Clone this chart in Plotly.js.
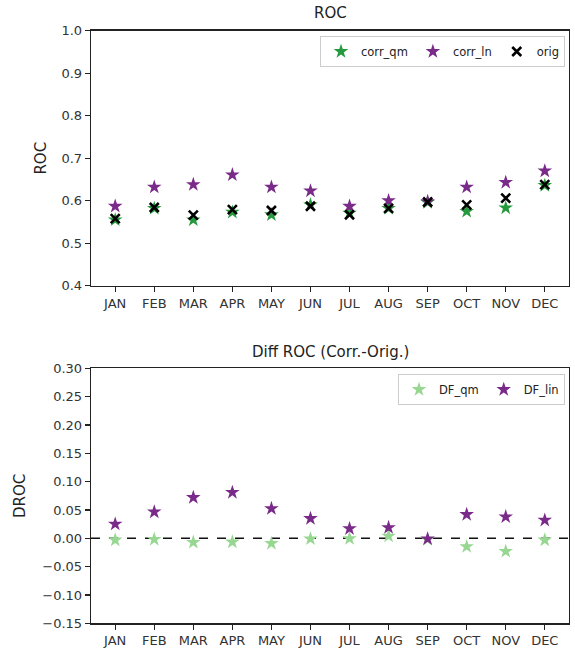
<!DOCTYPE html>
<html>
<head>
<meta charset="utf-8">
<script src="https://cdn.plot.ly/plotly-3.0.1.min.js"></script>
<style>html,body{margin:0;padding:0;background:#fff;}#chart{width:575px;height:649px;}</style>
</head>
<body>
<div id="chart"></div>
<script>
// ---- data ----
const months = ['JAN','FEB','MAR','APR','MAY','JUN','JUL','AUG','SEP','OCT','NOV','DEC'];
const rocCorrQm = [0.555,0.582,0.555,0.573,0.567,0.590,0.571,0.582,0.596,0.575,0.583,0.636];
const rocCorrLn = [0.587,0.632,0.638,0.661,0.632,0.623,0.587,0.600,0.598,0.632,0.643,0.670];
const rocOrig   = [0.558,0.584,0.566,0.579,0.577,0.587,0.567,0.582,0.597,0.590,0.606,0.638];
const drocQm    = [-0.003,-0.002,-0.007,-0.0065,-0.009,-0.001,-0.0006,0.004,-0.002,-0.0147,-0.023,-0.003];
const drocLin   = [0.025,0.0465,0.072,0.081,0.0525,0.035,0.017,0.019,-0.001,0.042,0.038,0.032];
const rocTicks  = [0.4,0.5,0.6,0.7,0.8,0.9,1.0];
const drocTicks = [-0.15,-0.10,-0.05,0.00,0.05,0.10,0.15,0.20,0.25,0.30];

const W = 575, H = 649;
const FONT = 'DejaVu Sans, sans-serif';
const GREEN = '#259a3d', PURPLE = '#7a2a88', LGREEN = '#98d792';

const traces = [
  {x: months, y: rocCorrQm, name: 'corr_qm', type: 'scatter', mode: 'markers', xaxis: 'x', yaxis: 'y', legend: 'legend',
   marker: {symbol: 'star', size: 11, color: GREEN, line: {width: 0}}},
  {x: months, y: rocCorrLn, name: 'corr_ln', type: 'scatter', mode: 'markers', xaxis: 'x', yaxis: 'y', legend: 'legend',
   marker: {symbol: 'star', size: 11, color: PURPLE, line: {width: 0}}},
  {x: months, y: rocOrig, name: 'orig', type: 'scatter', mode: 'markers', xaxis: 'x', yaxis: 'y', legend: 'legend',
   marker: {symbol: 'x-thin-open', size: 9, color: '#000', line: {width: 2.6, color: '#000'}}},
  {x: months, y: drocQm, name: 'DF_qm', type: 'scatter', mode: 'markers', xaxis: 'x2', yaxis: 'y2', legend: 'legend2',
   marker: {symbol: 'star', size: 11, color: LGREEN, line: {width: 0}}},
  {x: months, y: drocLin, name: 'DF_lin', type: 'scatter', mode: 'markers', xaxis: 'x2', yaxis: 'y2', legend: 'legend2',
   marker: {symbol: 'star', size: 11, color: PURPLE, line: {width: 0}}}
];

const axisCommon = {
  showgrid: false, zeroline: false, showline: true, mirror: true,
  linecolor: '#222', linewidth: 1.3, ticks: 'outside', ticklen: 5, tickwidth: 1.2, tickcolor: '#222',
  tickfont: {family: FONT, size: 13, color: '#333'}
};

const layout = {
  width: W, height: H,
  margin: {l: 0, r: 0, t: 0, b: 0},
  paper_bgcolor: '#fff', plot_bgcolor: '#fff',
  font: {family: FONT, color: '#222'},
  xaxis: Object.assign({}, axisCommon, {domain: [91/W, 569/W], range: [-0.62, 11.62], anchor: 'y', type: 'category'}),
  yaxis: Object.assign({}, axisCommon, {domain: [1-285.7/H, 1-30.7/H], range: [0.4, 1.0], anchor: 'x',
    tickvals: rocTicks, ticktext: rocTicks.map(v => v.toFixed(1)),
    title: {text: 'ROC', font: {family: FONT, size: 15, color: '#222'}, standoff: 11}}),
  xaxis2: Object.assign({}, axisCommon, {domain: [91/W, 569/W], range: [-0.62, 11.62], anchor: 'y2', type: 'category'}),
  yaxis2: Object.assign({}, axisCommon, {domain: [1-623.3/H, 1-368.3/H], range: [-0.15, 0.30], anchor: 'x2',
    tickvals: drocTicks, ticktext: drocTicks.map(v => (v < 0 ? '\u2212' : '') + Math.abs(v).toFixed(2)),
    title: {text: 'DROC', font: {family: FONT, size: 15, color: '#222'}, standoff: 13}}),
  shapes: [
    {type: 'line', xref: 'x2 domain', yref: 'y2', x0: 0, x1: 1, y0: 0, y1: 0,
     line: {color: '#111', width: 1.6, dash: 'dash'}, layer: 'below'}
  ],
  annotations: [
    {text: 'ROC', xref: 'paper', yref: 'paper', x: 330/W, y: 1-13/H, xanchor: 'center', yanchor: 'middle',
     showarrow: false, font: {family: FONT, size: 15, color: '#222'}},
    {text: 'Diff ROC (Corr.-Orig.)', xref: 'paper', yref: 'paper', x: 330/W, y: 1-352/H, xanchor: 'center', yanchor: 'middle',
     showarrow: false, font: {family: FONT, size: 15, color: '#222'}}
  ],
  legend: {orientation: 'h', x: 565/W, y: 1-36/H, xanchor: 'right', yanchor: 'top',
    bgcolor: '#fff', bordercolor: '#ccc', borderwidth: 1, font: {family: FONT, size: 11.5, color: '#222'},
    itemwidth: 30, tracegroupgap: 0},
  legend2: {orientation: 'h', x: 565/W, y: 1-374/H, xanchor: 'right', yanchor: 'top',
    bgcolor: '#fff', bordercolor: '#ccc', borderwidth: 1, font: {family: FONT, size: 11.5, color: '#222'},
    itemwidth: 30, tracegroupgap: 0},
  showlegend: true
};

Plotly.newPlot('chart', traces, layout, {staticPlot: true, displayModeBar: false});
</script>
</body>
</html>
